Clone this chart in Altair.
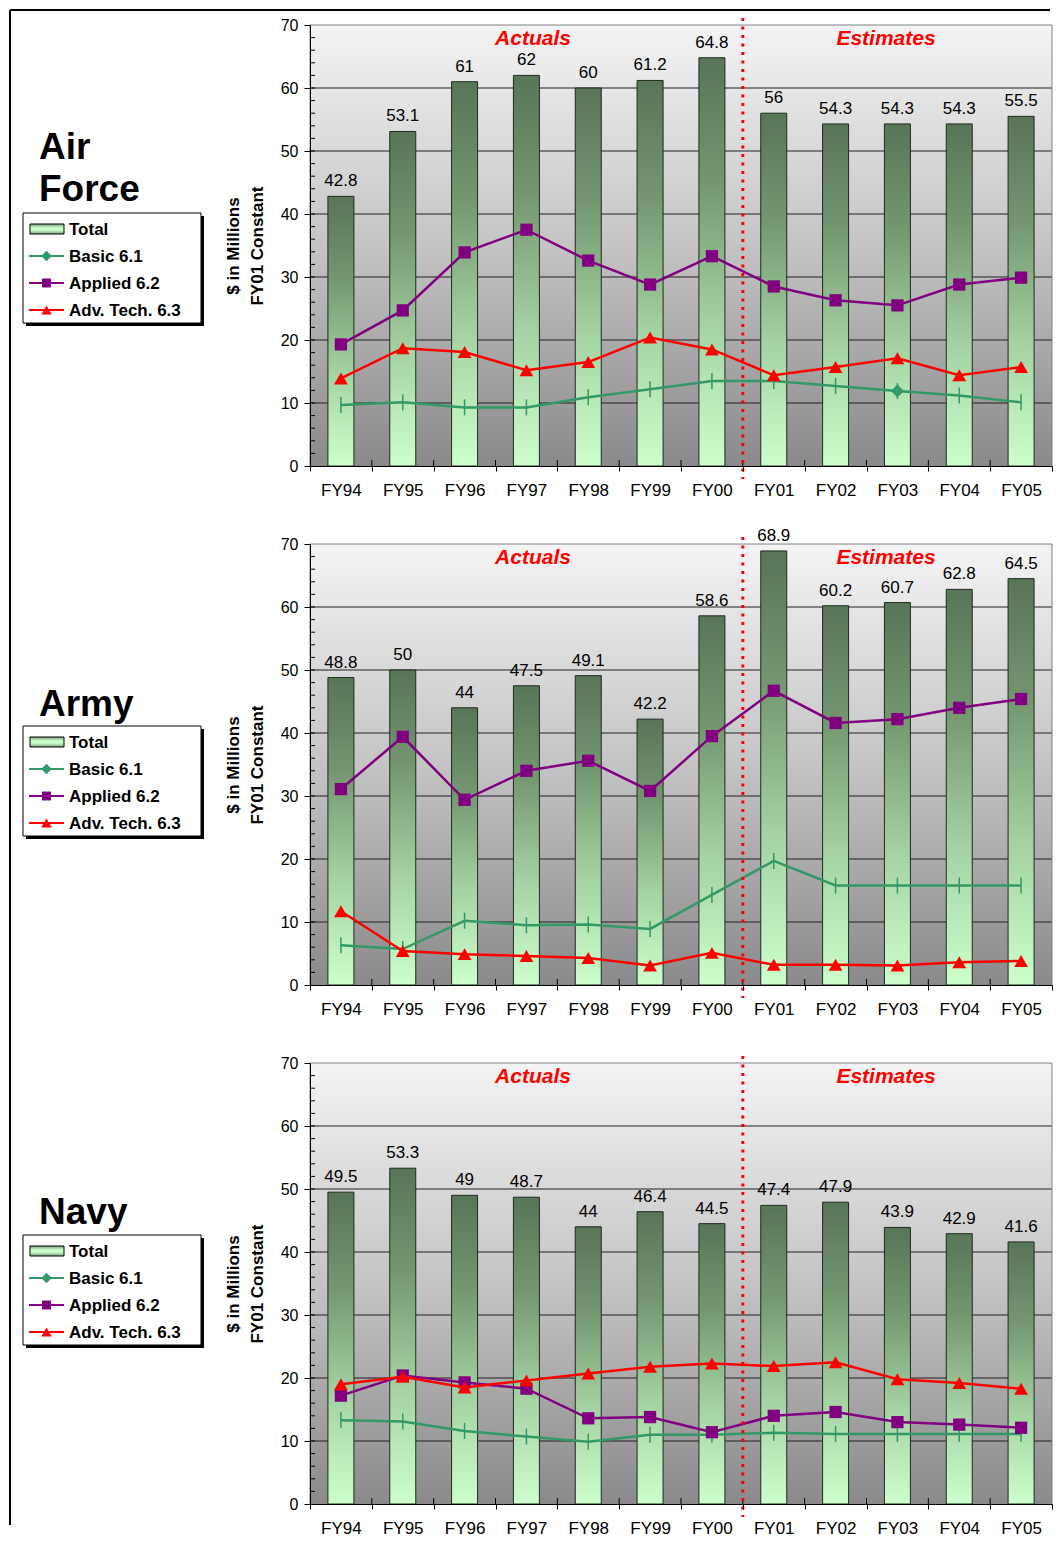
import altair as alt
import pandas as pd

# ---------------- data ----------------
cats = ["FY94", "FY95", "FY96", "FY97", "FY98", "FY99", "FY00",
        "FY01", "FY02", "FY03", "FY04", "FY05"]
first_estimate = "FY01"

af_total = [42.8, 53.1, 61, 62, 60, 61.2, 64.8, 56, 54.3, 54.3, 54.3, 55.5]
af_basic = [9.7, 10.1, 9.3, 9.3, 10.9, 12.2, 13.5, 13.5, 12.7, 11.9, 11.2, 10.1]
af_applied = [19.3, 24.7, 33.9, 37.5, 32.6, 28.8, 33.3, 28.5, 26.3, 25.5, 28.8, 29.9]
af_adv = [13.9, 18.7, 18.1, 15.2, 16.5, 20.4, 18.5, 14.4, 15.7, 17.1, 14.4, 15.7]

army_total = [48.8, 50, 44, 47.5, 49.1, 42.2, 58.6, 68.9, 60.2, 60.7, 62.8, 64.5]
army_basic = [6.3, 5.7, 10.2, 9.5, 9.6, 8.9, 14.3, 19.7, 15.8, 15.8, 15.8, 15.8]
army_applied = [31.1, 39.4, 29.4, 34.0, 35.6, 30.8, 39.5, 46.7, 41.6, 42.2, 44.0, 45.4]
army_adv = [11.7, 5.4, 4.9, 4.6, 4.3, 3.1, 5.1, 3.2, 3.2, 3.1, 3.6, 3.8]

navy_total = [49.5, 53.3, 49, 48.7, 44, 46.4, 44.5, 47.4, 47.9, 43.9, 42.9, 41.6]
navy_basic = [13.3, 13.1, 11.6, 10.7, 9.9, 11.0, 11.0, 11.3, 11.1, 11.1, 11.1, 11.1]
navy_applied = [17.2, 20.4, 19.3, 18.3, 13.6, 13.8, 11.4, 14.0, 14.6, 13.0, 12.6, 12.1]
navy_adv = [19.0, 20.2, 18.5, 19.6, 20.7, 21.8, 22.3, 21.9, 22.5, 19.8, 19.2, 18.3]

panel_titles = [["Air", "Force"], ["Army"], ["Navy"]]
legend_labels = ["Total", "Basic 6.1", "Applied 6.2", "Adv. Tech. 6.3"]
y_title = ["$ in Millions", "FY01 Constant"]
y_major = [0, 10, 20, 30, 40, 50, 60, 70]
y_grid = [10, 20, 30, 40, 50, 60]
y_minor = list(range(2, 70, 2))
period_labels = ["Actuals", "Estimates"]

# ---------------- style ----------------
W, H = 742, 441
FONT = "Liberation Sans"
C_BASIC, C_APPLIED, C_ADV = "#339966", "#800080", "#ff0000"


def grad(stops):
    return {"gradient": "linear", "x1": 0, "y1": 0, "x2": 0, "y2": 1,
            "stops": [{"offset": o, "color": c} for o, c in stops]}


BG = grad([(0, "#f4f4f4"), (0.5, "#c4c4c4"), (1, "#8a8a8a")])
BAR = grad([(0, "#587558"), (0.3, "#73966f"), (0.65, "#a4d2a2"), (1, "#ccffcc")])
SWATCH = grad([(0, "#7f9f7e"), (0.4, "#ccffcc"), (0.6, "#ccffcc"), (1, "#7f9f7e")])

xscale = alt.Scale(domain=cats, paddingInner=0, paddingOuter=0)
xaxis = alt.Axis(title=None, labelAngle=0, labelFont=FONT, labelFontSize=17,
                 labelColor="black", labelPadding=11, tickBand="extent",
                 tickSize=5, tickColor="black", domainColor="black",
                 grid=False, zindex=1)
yscale = alt.Scale(domain=[0, 70], nice=False)
yaxis = alt.Axis(title=y_title, values=y_major, tickSize=6, tickColor="black",
                 domainColor="black", labelPadding=6, labelFont=FONT,
                 labelFontSize=16, labelColor="black", labelOverlap=False,
                 labelFlush=False, grid=False, zindex=1, titleFont=FONT,
                 titleFontSize=17, titleFontWeight="bold", titleColor="black",
                 titleLineHeight=24, titlePadding=14)

one = pd.DataFrame({"k": [0]})


def X(**kw):
    return alt.X("cat:N", scale=xscale, axis=xaxis, **kw)


def Y(field):
    return alt.Y(f"{field}:Q", scale=yscale, axis=yaxis)


def series_layers(df, field, color, shape, size, filled=True, width=2.5):
    line = alt.Chart(df).mark_line(color=color, strokeWidth=width).encode(x=X(), y=Y(field))
    if filled:
        pts = alt.Chart(df).mark_point(shape=shape, size=size, filled=True,
                                       color=color, opacity=1).encode(x=X(), y=Y(field))
    else:
        pts = alt.Chart(df).mark_point(shape=shape, size=size, filled=False,
                                       color=color, strokeWidth=1.5, opacity=1).encode(x=X(), y=Y(field))
    return [line, pts]


def panel(total, basic, applied, adv, title_lines, title_y, legend_y,
          diamond_cats=(), frame=False):
    df = pd.DataFrame({"cat": cats, "total": total, "basic": basic,
                       "applied": applied, "adv": adv})
    layers = []
    if frame:
        layers.append(alt.Chart(one).mark_rule(color="black", strokeWidth=2).encode(
            x=alt.value(-300), x2=alt.value(W - 2), y=alt.value(-15)))
        layers.append(alt.Chart(one).mark_rule(color="black", strokeWidth=2).encode(
            x=alt.value(-300), y=alt.value(-15), y2=alt.value(1500)))
    # background
    layers.append(alt.Chart(one).mark_rect(fill=BG).encode(
        x=alt.value(0), x2=alt.value(W), y=alt.value(0), y2=alt.value(H)))
    # grid
    layers.append(alt.Chart(pd.DataFrame({"v": y_grid})).mark_rule(
        color="#202020", strokeWidth=1).encode(y=Y("v"), x=alt.value(0), x2=alt.value(W)))
    # border
    layers.append(alt.Chart(one).mark_rect(fill="transparent", stroke="#808080",
                                           strokeWidth=1).encode(
        x=alt.value(0), x2=alt.value(W), y=alt.value(0), y2=alt.value(H)))
    # inward ticks
    layers.append(alt.Chart(pd.DataFrame({"v": y_minor})).mark_rule(
        color="black", strokeWidth=1).encode(y=Y("v"), x=alt.value(0), x2=alt.value(5)))
    layers.append(alt.Chart(pd.DataFrame({"cat": cats[1:]})).mark_rule(
        color="black", strokeWidth=1).encode(x=X(bandPosition=0),
                                             y=alt.value(H - 6), y2=alt.value(H)))
    # bars
    layers.append(alt.Chart(df).mark_bar(size=26, fill=BAR, stroke="#1e2a1e",
                                         strokeWidth=1).encode(x=X(), y=Y("total")))
    layers.append(alt.Chart(df).mark_text(baseline="bottom", dy=-6, font=FONT,
                                          fontSize=17, color="black").encode(
        x=X(), y=Y("total"), text=alt.Text("total:Q")))
    # series
    layers += series_layers(df, "basic", C_BASIC, "M0,-1L0,1", 256, filled=False)
    if diamond_cats:
        ddf = df[df["cat"].isin(list(diamond_cats))]
        layers.append(alt.Chart(ddf).mark_point(shape="diamond", size=170, filled=True,
                                                color=C_BASIC, opacity=1).encode(
            x=X(), y=Y("basic")))
    layers += series_layers(df, "applied", C_APPLIED, "square", 150)
    layers += series_layers(df, "adv", C_ADV, "triangle-up", 190)
    # divider
    layers.append(alt.Chart(pd.DataFrame({"cat": [first_estimate]})).mark_rule(
        color="#ff0000", strokeWidth=3, strokeDash=[3, 5.5]).encode(
        x=X(bandPosition=0), y=alt.value(-7), y2=alt.value(H + 13)))
    for lab, px in zip(period_labels, [223, 576]):
        layers.append(alt.Chart(one).mark_text(
            text=lab, color="#ff0000", font=FONT, fontSize=21, fontWeight="bold",
            fontStyle="italic", align="center", baseline="middle").encode(
            x=alt.value(px), y=alt.value(14)))
    # title
    layers.append(alt.Chart(one).mark_text(
        text=title_lines, align="left", baseline="alphabetic", font=FONT,
        fontSize=37, fontWeight="bold", lineHeight=42, color="black").encode(
        x=alt.value(-271), y=alt.value(title_y)))
    # legend box
    layers.append(alt.Chart(one).mark_rect(fill="black").encode(
        x=alt.value(-284), x2=alt.value(-106), y=alt.value(legend_y + 3),
        y2=alt.value(legend_y + 113)))
    layers.append(alt.Chart(one).mark_rect(fill="white", stroke="black",
                                           strokeWidth=1).encode(
        x=alt.value(-287), x2=alt.value(-109), y=alt.value(legend_y),
        y2=alt.value(legend_y + 110)))
    row_y = [legend_y + 16 + 27 * i for i in range(4)]
    # Total swatch
    layers.append(alt.Chart(one).mark_rect(fill=SWATCH, stroke="black",
                                           strokeWidth=1).encode(
        x=alt.value(-280), x2=alt.value(-246), y=alt.value(row_y[0] - 5),
        y2=alt.value(row_y[0] + 5)))
    sym = [(C_BASIC, "diamond", 110), (C_APPLIED, "square", 80), (C_ADV, "triangle-up", 110)]
    for (col, shp, sz), ry in zip(sym, row_y[1:]):
        layers.append(alt.Chart(one).mark_rule(color=col, strokeWidth=2).encode(
            x=alt.value(-281), x2=alt.value(-246), y=alt.value(ry)))
        layers.append(alt.Chart(one).mark_point(shape=shp, size=sz, filled=True,
                                                color=col, opacity=1).encode(
            x=alt.value(-263.5), y=alt.value(ry)))
    for lab, ry in zip(legend_labels, row_y):
        layers.append(alt.Chart(one).mark_text(
            text=lab, align="left", baseline="middle", font=FONT, fontSize=17,
            fontWeight="bold", color="black").encode(x=alt.value(-241), y=alt.value(ry + 1)))
    return alt.layer(*layers).properties(width=W, height=H)


p1 = panel(af_total, af_basic, af_applied, af_adv, panel_titles[0], 134, 188,
           diamond_cats=("FY03",), frame=True)
p2 = panel(army_total, army_basic, army_applied, army_adv, panel_titles[1], 172, 182)
p3 = panel(navy_total, navy_basic, navy_applied, navy_adv, panel_titles[2], 161, 172)

chart = alt.vconcat(p1, p2, p3, spacing=78, bounds="flush").properties(
    padding={"left": 0, "top": 0, "right": 0, "bottom": 0}
).configure_view(stroke="transparent")

chart.save("out.html", embed_options={"renderer": "svg", "actions": False})
